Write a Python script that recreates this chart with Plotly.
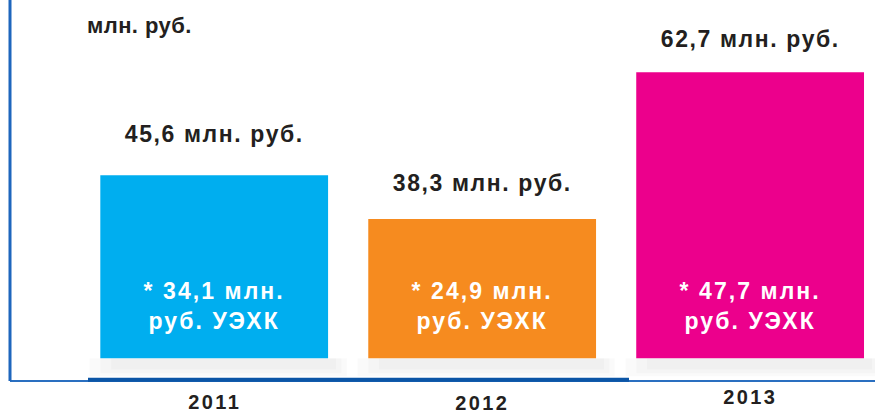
import plotly.graph_objects as go

years = ["2011", "2012", "2013"]
totals = [45.6, 38.3, 62.7]
total_labels = ["45,6 млн. руб.", "38,3 млн. руб.", "62,7 млн. руб."]
uehk_labels = ["* 34,1 млн.<br>руб. УЭХК", "* 24,9 млн.<br>руб. УЭХК", "* 47,7 млн.<br>руб. УЭХК"]
colors = ["#00AEEF", "#F68B1F", "#EC008C"]
unit_label = "млн. руб."

# style / layout constants
label_shift_px = [31, 26, 23]     # gap between bar top and label baseline
year_shift_px = [-21, -22, -16]   # year label centre below the axis line
BASE = 15.2
YMIN, YMAX = 11.4, 74.7
XMIN, XMAX = -0.762, 2.466
BW = 0.85
xs = [0, 1, 2]
FONT = "Liberation Sans, Arial, sans-serif"
INK = "#231F20"

fig = go.Figure()

shapes = []
for dx0, dx1, dy, a in [(-0.04, 0.07, 3.0, 0.018), (0.0, 0.05, 2.5, 0.018), (0.04, 0.03, 1.9, 0.018)]:
    for x in xs:
        shapes.append(dict(type="rect", xref="x", yref="y", x0=x - BW / 2 + dx0, x1=x + BW / 2 + dx1,
                           y0=BASE, y1=BASE - dy, fillcolor=f"rgba(0,0,0,{a})", line_width=0,
                           layer="below"))

fig.add_trace(go.Bar(
    x=xs, y=[t - BASE for t in totals], base=BASE, width=BW,
    marker=dict(color=colors, line_width=0), hoverinfo="skip",
))

for x, t, lab, s in zip(xs, totals, total_labels, label_shift_px):
    fig.add_annotation(x=x, y=t, yshift=s - 5, text=f"<b>{lab}</b>", showarrow=False,
                       yanchor="bottom", font=dict(family=FONT, size=23, color=INK))

for x, lab in zip(xs, uehk_labels):
    fig.add_annotation(x=x, y=BASE, yshift=52, text=f"<b>{lab}</b>", showarrow=False,
                       yanchor="middle", align="center",
                       font=dict(family=FONT, size=23, color="white"))

for x, yr, s in zip(xs, years, year_shift_px):
    fig.add_annotation(x=x, xref="x", yref="paper", y=0, yshift=s, text=f"<b>{yr}</b>",
                       showarrow=False, yanchor="middle",
                       font=dict(family=FONT, size=20, color=INK))

fig.add_annotation(xref="paper", yref="paper", x=(139 - 10) / 865, y=1, yshift=-11,
                   xanchor="center", text=f"<b>{unit_label}</b>", showarrow=False, yanchor="top",
                   font=dict(family=FONT, size=22, color=INK))

shapes.append(dict(type="line", xref="paper", yref="paper", x0=0, x1=1, y0=0, y1=0,
                   line=dict(color="#2A6FC0", width=2)))
shapes.append(dict(type="line", xref="paper", yref="paper", x0=(88 - 10) / 865, x1=(629 - 10) / 865,
                   y0=0.003, y1=0.003, line=dict(color="#0B55A6", width=4)))
shapes.append(dict(type="line", xref="paper", yref="paper", x0=0, x1=0, y0=0, y1=1.02,
                   line=dict(color="#1E66BD", width=3)))

fig.update_layout(
    width=875, height=413,
    margin=dict(l=10, r=0, t=0, b=32),
    paper_bgcolor="white", plot_bgcolor="white",
    showlegend=False, shapes=shapes,
    xaxis=dict(range=[XMIN, XMAX], showticklabels=False, showgrid=False, zeroline=False,
               showline=False, ticks=""),
    yaxis=dict(range=[YMIN, YMAX], visible=False, showgrid=False, zeroline=False),
)

# letter spacing per annotation (values, inside labels, years, unit)
spacing = ["0.07em"] * 3 + ["0.09em"] * 3 + ["0.12em"] * 3 + ["0.02em"]
js = (
    "document.body.style.margin='0';document.body.style.overflow='hidden';"
    "var sp=" + str(spacing) + ";"
    "document.querySelectorAll('.annotation-text').forEach(function(e,i){"
    "if(i<sp.length){e.style.letterSpacing=sp[i];}});"
)

fig.write_html("out.html", config={"displayModeBar": False}, post_script=js)
